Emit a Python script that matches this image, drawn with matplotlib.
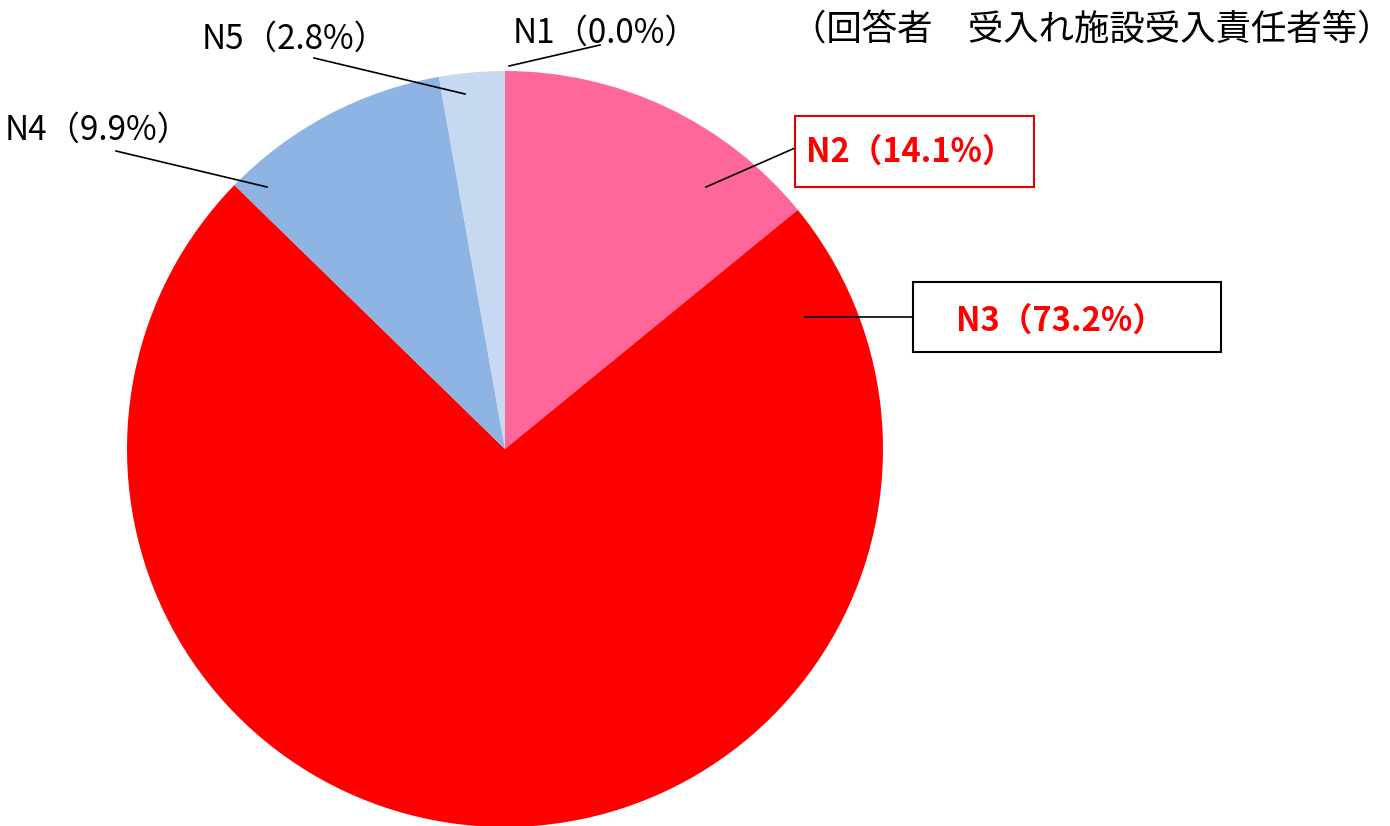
import matplotlib
matplotlib.use('Agg')
import matplotlib.pyplot as plt
from matplotlib.patches import Rectangle

plt.rcParams['font.family'] = ['Noto Sans CJK JP', 'DejaVu Sans']

W, H = 1390, 826

labels = ['N1', 'N2', 'N3', 'N4', 'N5']
values = [0.0, 14.1, 73.2, 9.9, 2.8]
colors = ['#F2F2F2', '#FF6699', '#FF0000', '#8EB4E3', '#C6D9F1']
title = '（回答者　受入れ施設受入責任者等）'

# ラベル位置（ピクセル座標, y は上から）
text_pos = {'N1': (606, 33), 'N2': (910, 152), 'N3': (1060, 321),
            'N4': (98, 130), 'N5': (295, 39)}
line_pos = {'N1': [(509, 66), (600, 45)], 'N2': [(706, 187), (795, 148)],
            'N3': [(805, 317), (913, 317)], 'N4': [(116, 151), (267, 187)],
            'N5': [(314, 58), (465, 94)]}
box_pos = {'N2': (795, 116, 1034, 187, '#E00000'),
           'N3': (913, 282, 1221, 352, '#000000')}
highlight = ['N2', 'N3']


def fy(y):
    return H - y


fig = plt.figure(figsize=(W / 100, H / 100), dpi=100)
ax = fig.add_axes([0, 0, 1, 1])
ax.pie(values, colors=colors, startangle=90, counterclock=False,
       center=(505, fy(449)), radius=378,
       wedgeprops=dict(linewidth=0))
ax.set_xlim(0, W)
ax.set_ylim(0, H)
ax.axis('off')

for name, v in zip(labels, values):
    (x1, y1), (x2, y2) = line_pos[name]
    ax.plot([x1, x2], [fy(y1), fy(y2)], color='black', lw=1.2, zorder=3)
    if name in box_pos:
        bx1, by1, bx2, by2, ec = box_pos[name]
        ax.add_patch(Rectangle((bx1, fy(by2)), bx2 - bx1, by2 - by1,
                               facecolor='white', edgecolor=ec, lw=1.5, zorder=4))
    tx, ty = text_pos[name]
    txt = f'{name}（{v:.1f}%）'
    if name in highlight:
        ax.text(tx, fy(ty), txt, ha='center', va='center', fontsize=23.5,
                color='#FF0000', fontweight='bold', zorder=5)
    else:
        ax.text(tx, fy(ty), txt, ha='center', va='center', fontsize=24,
                color='black', zorder=5)

ax.text(1092, fy(30), title, ha='center', va='center', fontsize=25.5, color='black')

fig.savefig('out.png', dpi=100)
